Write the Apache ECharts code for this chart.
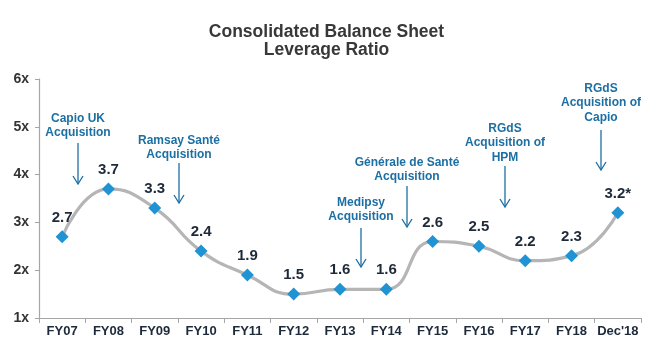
<!DOCTYPE html>
<html>
<head>
<meta charset="utf-8">
<script src="https://cdn.jsdelivr.net/npm/echarts@6/dist/echarts.min.js"></script>
<style>
html,body{margin:0;padding:0;background:#fff;}
#main{width:653px;height:354px;}
</style>
</head>
<body>
<div id="main"></div>
<script>
var categories = ["FY07","FY08","FY09","FY10","FY11","FY12","FY13","FY14","FY15","FY16","FY17","FY18","Dec'18"];
var leverage = [2.7, 3.7, 3.3, 2.4, 1.9, 1.5, 1.6, 1.6, 2.6, 2.5, 2.2, 2.3, 3.2];
var pointLabels = ["2.7","3.7","3.3","2.4","1.9","1.5","1.6","1.6","2.6","2.5","2.2","2.3","3.2*"];
var yTicks = [1, 2, 3, 4, 5, 6];
// annotation text + arrow: [text, x, textTop, arrowFrom, arrowTo]
var notes = [
    ["Capio UK\nAcquisition", 78, 111, 143, 184],
    ["Ramsay Santé\nAcquisition", 179, 133, 163, 203],
    ["Medipsy\nAcquisition", 361, 195, 228, 267],
    ["Générale de Santé\nAcquisition", 407, 155, 186, 227],
    ["RGdS\nAcquisition of\nHPM", 505, 121, 166, 207],
    ["RGdS\nAcquisition of\nCapio", 601, 81, 130, 170]
];

var blue = "#1f93d4";
var noteBlue = "#1c6fa3";
var dark = "#1e2a3a";
var font = 'Arial, "Liberation Sans", sans-serif';

var myChart = echarts.init(document.getElementById('main'));

var graphics = [];
notes.forEach(function (n) {
    graphics.push({
        type: 'text', x: n[1], y: n[2],
        style: {
            text: n[0], align: 'center',
            fill: noteBlue, font: 'bold 12px ' + font,
            lineHeight: 14.5
        }
    });
    graphics.push({
        type: 'line',
        shape: {x1: n[1], y1: n[3], x2: n[1], y2: n[4]},
        style: {stroke: noteBlue, lineWidth: 1.3}
    });
    graphics.push({
        type: 'polyline',
        shape: {points: [[n[1] - 5, n[4] - 8], [n[1], n[4]], [n[1] + 5, n[4] - 8]]},
        style: {stroke: noteBlue, lineWidth: 1.3, fill: null}
    });
});

myChart.setOption({
    animation: false,
    title: {
        text: 'Consolidated Balance Sheet\nLeverage Ratio',
        left: 'center',
        top: 18,
        textStyle: {
            fontFamily: font,
            fontSize: 17.5, fontWeight: 'bold', color: '#383838', lineHeight: 18
        }
    },
    grid: {left: 39, right: 12, top: 79, bottom: 36},
    xAxis: {
        type: 'category',
        data: categories,
        boundaryGap: true,
        axisLine: {lineStyle: {color: '#a6a6a6', width: 1.2}},
        axisTick: {show: true, length: 5, lineStyle: {color: '#a6a6a6'}},
        axisLabel: {
            color: dark, fontWeight: 'bold', fontSize: 13, margin: 7,
            fontFamily: font, interval: 0
        }
    },
    yAxis: {
        type: 'value',
        min: yTicks[0], max: yTicks[yTicks.length - 1], interval: 1,
        splitLine: {show: false},
        axisLine: {show: true, lineStyle: {color: '#a6a6a6', width: 1.2}},
        axisTick: {show: true, length: 4, lineStyle: {color: '#a6a6a6'}},
        axisLabel: {
            color: '#333', fontWeight: 'bold', fontSize: 14, margin: 10,
            fontFamily: font,
            formatter: function (v) { return v + 'x'; }
        }
    },
    series: [{
        type: 'line',
        data: leverage,
        smooth: 0.5,
        symbol: 'diamond',
        symbolSize: 13,
        lineStyle: {color: '#b5b5b5', width: 3.2},
        itemStyle: {color: blue},
        label: {
            show: true, position: 'top', distance: 5,
            color: dark, fontWeight: 'bold', fontSize: 15,
            fontFamily: font,
            formatter: function (p) { return pointLabels[p.dataIndex]; }
        },
        z: 3
    }],
    graphic: graphics
});
</script>
</body>
</html>
